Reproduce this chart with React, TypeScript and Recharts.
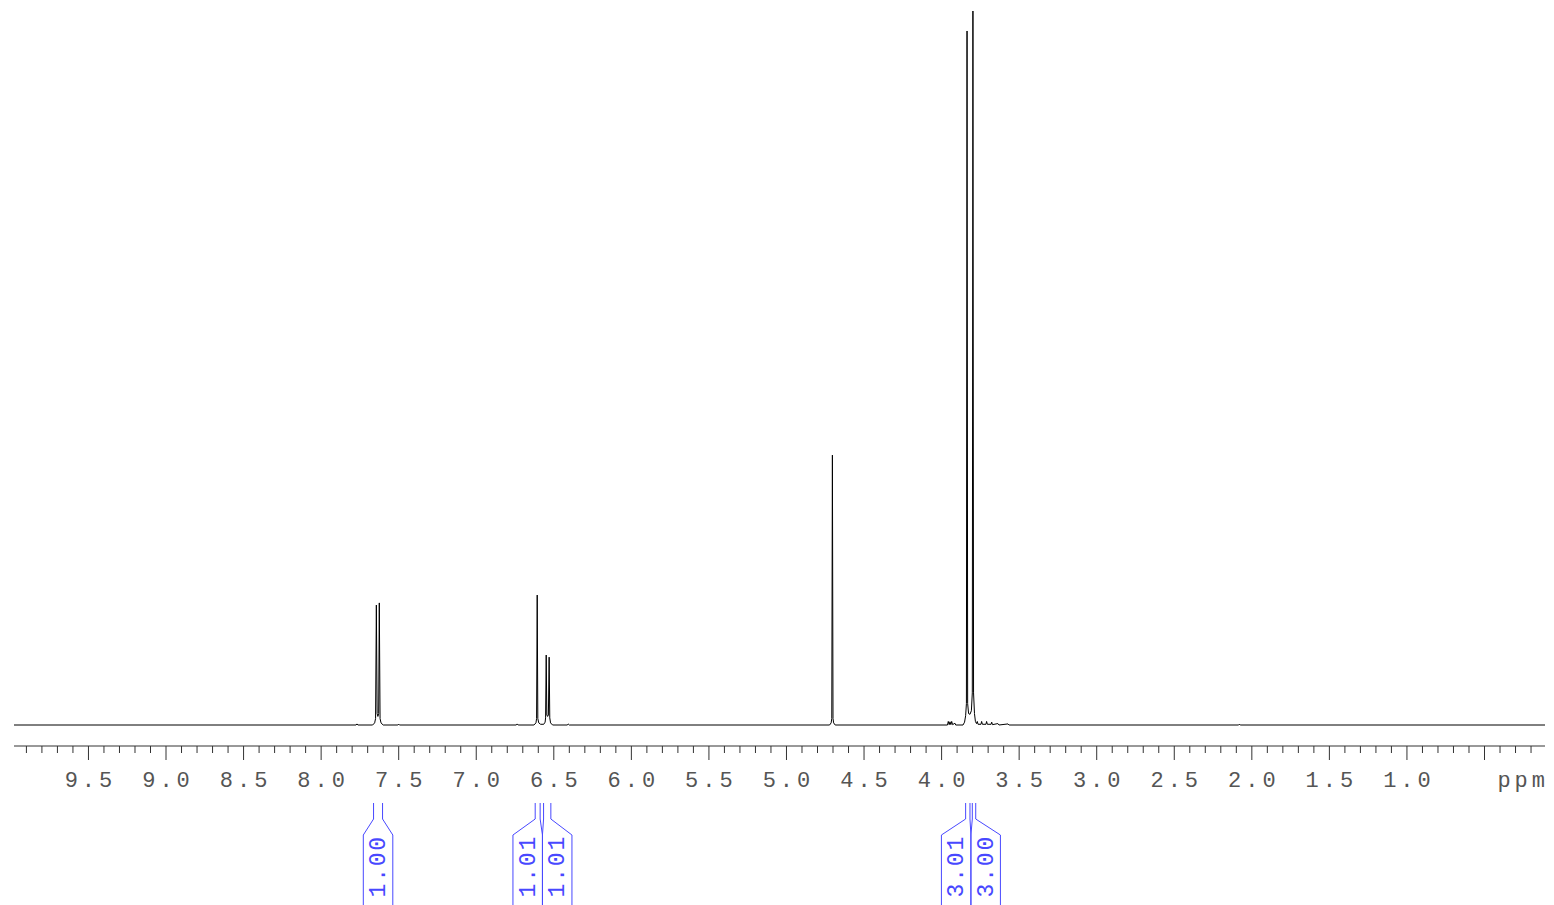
import React from 'react';
import { LineChart, Line, XAxis, YAxis, ReferenceArea } from 'recharts';

// spectrum window, ppm (axis runs high -> low)
const ppmHigh = 9.98;
const ppmLow = 0.11;

// [ppm, intensity], tallest line = 100
const baselineEnds = [[9.98, 0], [0.11, 0]];
const noise = [
  [7.775, 0], [7.769, 0.15], [7.763, 0],
  [7.505, 0], [7.5, 0.12], [7.495, 0],
  [6.742, 0], [6.736, 0.15], [6.73, 0],
  [6.412, 0], [6.407, 0.15], [6.4, 0],
  [2.085, 0], [2.08, 0.12], [2.075, 0],
];
const doublet763 = [
  [7.668, 0], [7.655, 0.3], [7.649, 0.9], [7.644, 16.8], [7.639, 1.6], [7.634, 1.2],
  [7.629, 1.6], [7.625, 17.1], [7.62, 0.9], [7.614, 0.3], [7.6, 0],
];
const signal661 = [
  [6.628, 0], [6.615, 0.3], [6.611, 0.9], [6.607, 18.2], [6.603, 0.9], [6.597, 0.3], [6.585, 0.1],
];
const doublet654 = [
  [6.565, 0.1], [6.556, 0.4], [6.553, 1.0], [6.549, 9.8], [6.545, 1.4], [6.54, 1.2],
  [6.535, 1.4], [6.53, 9.5], [6.526, 1.0], [6.521, 0.3], [6.508, 0],
];
const singlet470 = [
  [4.722, 0], [4.712, 0.3], [4.708, 0.9], [4.704, 37.8], [4.7, 0.9], [4.696, 0.3], [4.686, 0],
];
const methoxy38 = [
  [3.862, 0], [3.852, 0.4], [3.845, 1.3], [3.84, 3.0], [3.836, 97.2], [3.832, 3.0], [3.826, 1.6],
  [3.817, 1.5], [3.808, 2.0], [3.802, 4.5], [3.798, 100], [3.794, 4.5], [3.788, 1.6], [3.782, 0.5],
];
const impurities = [
  [3.962, 0], [3.957, 0.5], [3.951, 0.05], [3.946, 0.45], [3.94, 0.05], [3.935, 0.5], [3.929, 0.05],
  [3.914, 0.25], [3.909, 0],
  [3.775, 0.2], [3.77, 0.5], [3.765, 0.1], [3.746, 0.1], [3.742, 0.5], [3.737, 0.1],
  [3.714, 0.1], [3.71, 0.5], [3.705, 0.1], [3.681, 0.1], [3.677, 0.4], [3.672, 0.05],
  [3.637, 0.2], [3.63, 0], [3.572, 0.15], [3.565, 0],
];

// axis ticks
const majorTicks = [9.5, 9.0, 8.5, 8.0, 7.5, 7.0, 6.5, 6.0, 5.5, 5.0, 4.5, 4.0, 3.5, 3.0, 2.5, 2.0, 1.5, 1.0, 0.5];
const majorLabels = ['9.5', '9.0', '8.5', '8.0', '7.5', '7.0', '6.5', '6.0', '5.5', '5.0', '4.5', '4.0', '3.5', '3.0', '2.5', '2.0', '1.5', '1.0', ''];

// integral regions
const integralFrom = [7.662, 6.62, 6.566, 3.845, 3.802];
const integralTo = [7.604, 6.588, 6.519, 3.817, 3.78];
const integralLabels = ['1.00', '1.01', '1.01', '3.01', '3.00'];

const spectrum = [
  ...baselineEnds, ...noise, ...doublet763, ...signal661, ...doublet654,
  ...singlet470, ...methoxy38, ...impurities,
]
  .map(([ppm, v]) => ({ ppm, v }))
  .sort((a, b) => b.ppm - a.ppm);

const minorTicks: number[] = [];
for (let i = 2; i <= 99; i++) {
  if (i % 5 !== 0) minorTicks.push(i / 10);
}
const allTicks = [...majorTicks, ...minorTicks].sort((a, b) => b - a);

const MONO = '"Liberation Mono", "DejaVu Sans Mono", monospace';
const BLUE = '#4848ff';
const AXIS_TEXT = '#555';
const BOX_W = 29.5;

const PpmTick = (props: any) => {
  const { x, y, payload } = props;
  const idx = majorTicks.findIndex((t) => Math.abs(t - payload.value) < 1e-6);
  const major = idx >= 0;
  return (
    <g>
      <line x1={x} x2={x} y1={y} y2={y + (major ? 14 : 7)} stroke="#333" />
      {major && majorLabels[idx] && (
        <text
          x={x}
          y={y + 41}
          dx={2}
          textAnchor="middle"
          fontFamily={MONO}
          fontSize={22}
          letterSpacing={4}
          fill={AXIS_TEXT}
        >
          {majorLabels[idx]}
        </text>
      )}
    </g>
  );
};

const PpmUnit = (props: any) => {
  const vb = props.viewBox || {};
  return (
    <text
      x={vb.x + vb.width}
      y={vb.y + 41}
      dx={4}
      textAnchor="end"
      fontFamily={MONO}
      fontSize={22}
      letterSpacing={4}
      fill={AXIS_TEXT}
    >
      ppm
    </text>
  );
};

// spread label boxes that would overlap, keep them centred on their group
function layoutBoxes(centers: number[], w: number) {
  const order = centers.map((_, i) => i).sort((a, b) => centers[a] - centers[b]);
  const clusters = order.map((i) => [i]);
  const leftOf = (cl: number[]) =>
    cl.reduce((s, i) => s + centers[i], 0) / cl.length - (cl.length * w) / 2;
  let merged = true;
  while (merged) {
    merged = false;
    for (let k = 0; k < clusters.length - 1; k++) {
      const a = clusters[k];
      const b = clusters[k + 1];
      if (leftOf(a) + a.length * w > leftOf(b)) {
        clusters.splice(k, 2, [...a, ...b]);
        merged = true;
        break;
      }
    }
  }
  const out: number[] = [];
  clusters.forEach((cl) => {
    const left = leftOf(cl);
    cl.forEach((i, j) => {
      out[i] = left + w * (j + 0.5);
    });
  });
  return out;
}

const IntegralBracket = (props: any) => {
  const { x, y, width, height, index } = props;
  const from = integralFrom[index];
  const to = integralTo[index];
  const pxPerPpm = width / (from - to);
  const toPx = (ppm: number) => x + (from - ppm) * pxPerPpm;
  const centers = integralFrom.map((f, i) => toPx((f + integralTo[i]) / 2));
  const cx = layoutBoxes(centers, BOX_W)[index];
  const xl = x;
  const xr = x + width;
  const bl = cx - BOX_W / 2;
  const br = cx + BOX_W / 2;
  const base = y + height;
  const yTop = base + 57;
  const yKnee = base + 73;
  const yBox = base + 89;
  const yEnd = 905;
  const d = `M${xl},${yTop} L${xl},${yKnee} L${bl},${yBox} L${bl},${yEnd} M${xr},${yTop} L${xr},${yKnee} L${br},${yBox} L${br},${yEnd}`;
  return (
    <g>
      <path d={d} fill="none" stroke={BLUE} strokeWidth={1} />
      <text
        x={cx}
        y={yBox}
        dx={0}
        dy={1}
        transform={`rotate(-90 ${cx} ${yBox})`}
        textAnchor="end"
        dominantBaseline="central"
        fontFamily={MONO}
        fontSize={23}
        letterSpacing={1.8}
        fill={BLUE}
      >
        {integralLabels[index]}
      </text>
    </g>
  );
};

export default function App() {
  return (
    <div style={{ position: 'absolute', left: 0, top: 0, width: 1554, height: 905, background: '#fff' }}>
      <LineChart
        width={1554}
        height={905}
        data={spectrum}
        margin={{ top: 11, right: 9, left: 14, bottom: 119 }}
      >
        <XAxis
          dataKey="ppm"
          type="number"
          domain={[ppmLow, ppmHigh]}
          reversed
          allowDataOverflow
          ticks={allTicks}
          interval={0}
          tick={<PpmTick />}
          tickLine={false}
          tickSize={0}
          tickMargin={0}
          axisLine={{ stroke: '#333' }}
          height={40}
          label={<PpmUnit />}
        />
        <YAxis hide type="number" domain={[-2.94, 100]} allowDataOverflow />
        {integralFrom.map((f, i) => (
          <ReferenceArea
            key={i}
            x1={f}
            x2={integralTo[i]}
            ifOverflow="visible"
            shape={(p: any) => <IntegralBracket {...p} index={i} />}
          />
        ))}
        <Line
          type="linear"
          dataKey="v"
          stroke="#000"
          strokeWidth={1}
          dot={false}
          isAnimationActive={false}
        />
      </LineChart>
    </div>
  );
}
